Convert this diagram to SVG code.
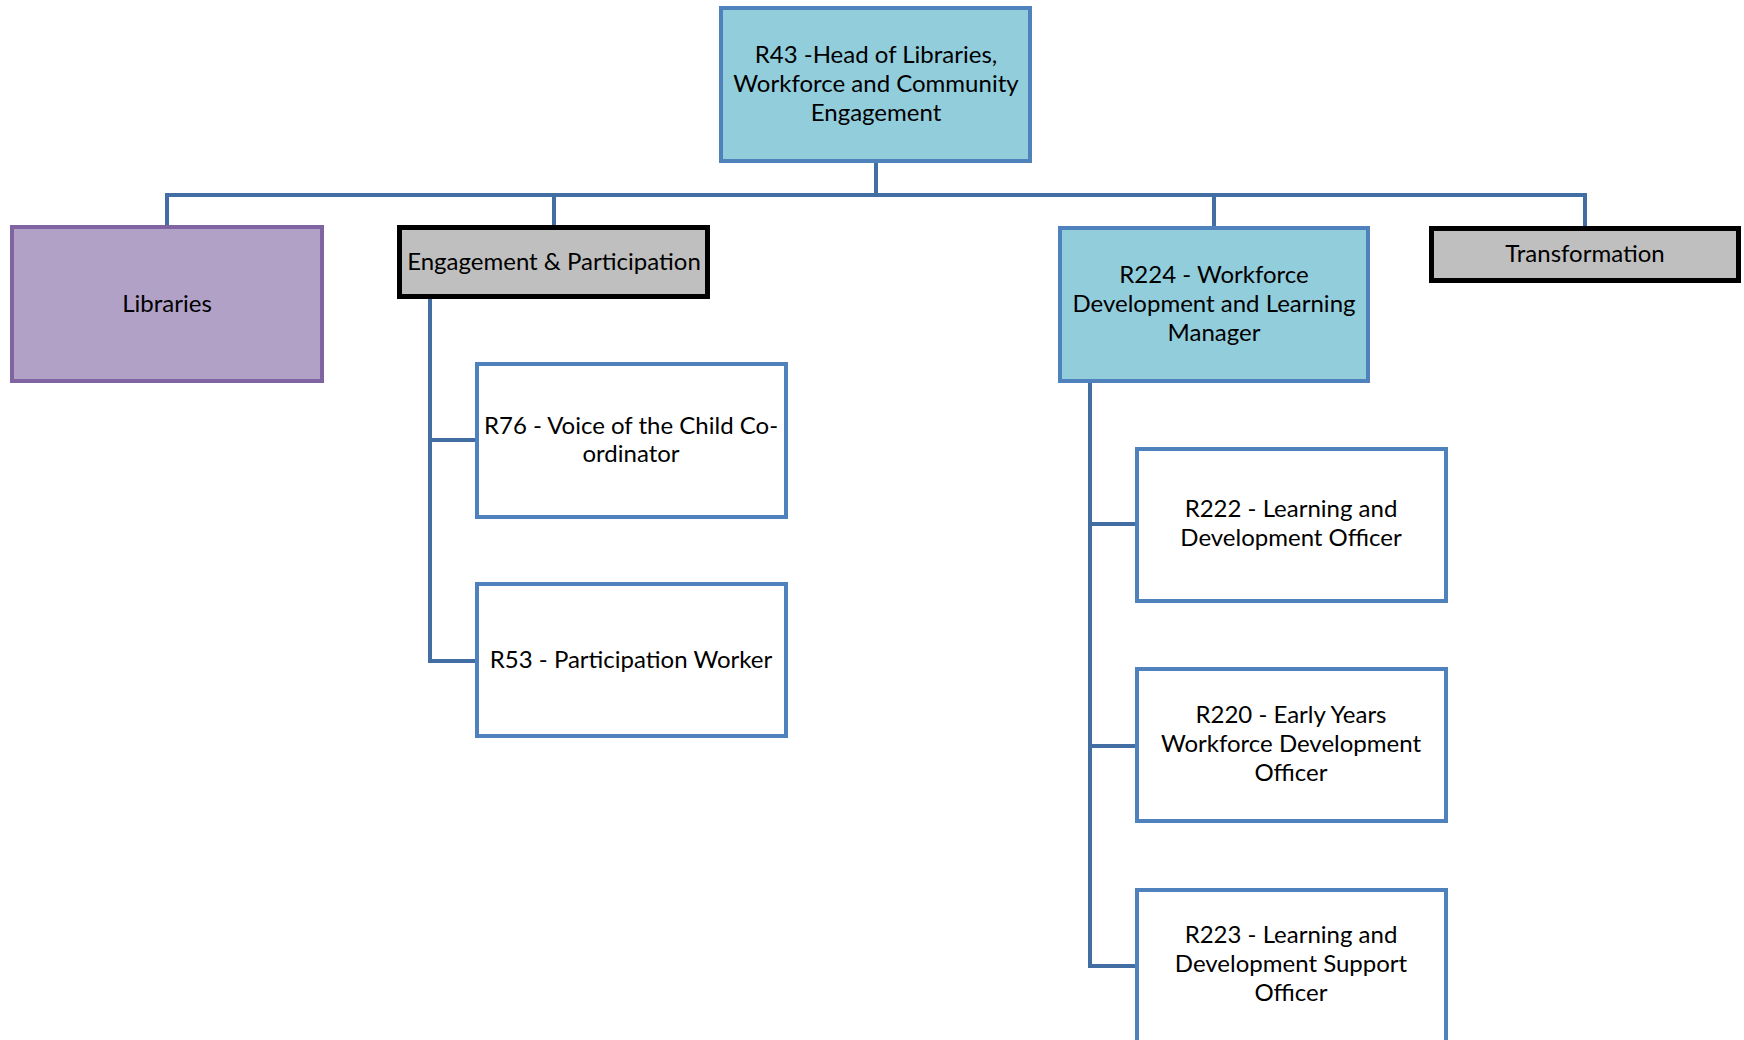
<svg xmlns="http://www.w3.org/2000/svg" width="1744" height="1040" viewBox="0 0 1744 1040">
<style>
.blue{fill:#92cddc;stroke:#4f81bd;stroke-width:4}
.white{fill:#ffffff;stroke:#4f81bd;stroke-width:4}
.grey{fill:#bfbfbf;stroke:#000000;stroke-width:5}
.purple{fill:#b2a1c7;stroke:#8064a2;stroke-width:4}
.conn{fill:none;stroke:#436ea3;stroke-width:4;stroke-linejoin:miter}
text{font-family:Lato,"Open Sans","Liberation Sans",sans-serif;font-size:24px;fill:#000;text-anchor:middle}
</style>
<rect width="1744" height="1040" fill="#ffffff"/>
<g id="connectors">
<path class="conn" d="M876 163V195"/>
<path class="conn" d="M167 227V195H1585V228"/>
<path class="conn" d="M554 195V227"/>
<path class="conn" d="M1214 195V228"/>
<path class="conn" d="M430 299V661H477"/>
<path class="conn" d="M430 440H477"/>
<path class="conn" d="M1090 383V966H1137"/>
<path class="conn" d="M1090 524H1137"/>
<path class="conn" d="M1090 746H1137"/>
</g>
<g id="r43">
<rect class="blue" x="721" y="8" width="309" height="153"/>
<text x="876" y="63">R43 -Head of Libraries,</text>
<text x="876" y="92">Workforce and Community</text>
<text x="876" y="121">Engagement</text>
</g>
<g id="libraries">
<rect class="purple" x="12" y="227" width="310" height="154"/>
<text x="167" y="312">Libraries</text>
</g>
<g id="engagement">
<rect class="grey" x="399.5" y="227.5" width="308" height="69"/>
<text x="554" y="270">Engagement &amp; Participation</text>
</g>
<g id="r224">
<rect class="blue" x="1060" y="228" width="308" height="153"/>
<text x="1214" y="283">R224 - Workforce</text>
<text x="1214" y="312">Development and Learning</text>
<text x="1214" y="341">Manager</text>
</g>
<g id="transformation">
<rect class="grey" x="1431.5" y="228.5" width="307" height="52"/>
<text x="1585" y="262">Transformation</text>
</g>
<g id="r76">
<rect class="white" x="477" y="364" width="309" height="153"/>
<text x="631" y="434">R76 - Voice of the Child Co-</text>
<text x="631" y="462">ordinator</text>
</g>
<g id="r53">
<rect class="white" x="477" y="584" width="309" height="152"/>
<text x="631" y="668">R53 - Participation Worker</text>
</g>
<g id="r222">
<rect class="white" x="1137" y="449" width="309" height="152"/>
<text x="1291" y="517">R222 - Learning and</text>
<text x="1291" y="546">Development Officer</text>
</g>
<g id="r220">
<rect class="white" x="1137" y="669" width="309" height="152"/>
<text x="1291" y="723">R220 - Early Years</text>
<text x="1291" y="752">Workforce Development</text>
<text x="1291" y="781">Officer</text>
</g>
<g id="r223">
<rect class="white" x="1137" y="890" width="309" height="153"/>
<text x="1291" y="943">R223 - Learning and</text>
<text x="1291" y="972">Development Support</text>
<text x="1291" y="1001">Officer</text>
</g>
</svg>
